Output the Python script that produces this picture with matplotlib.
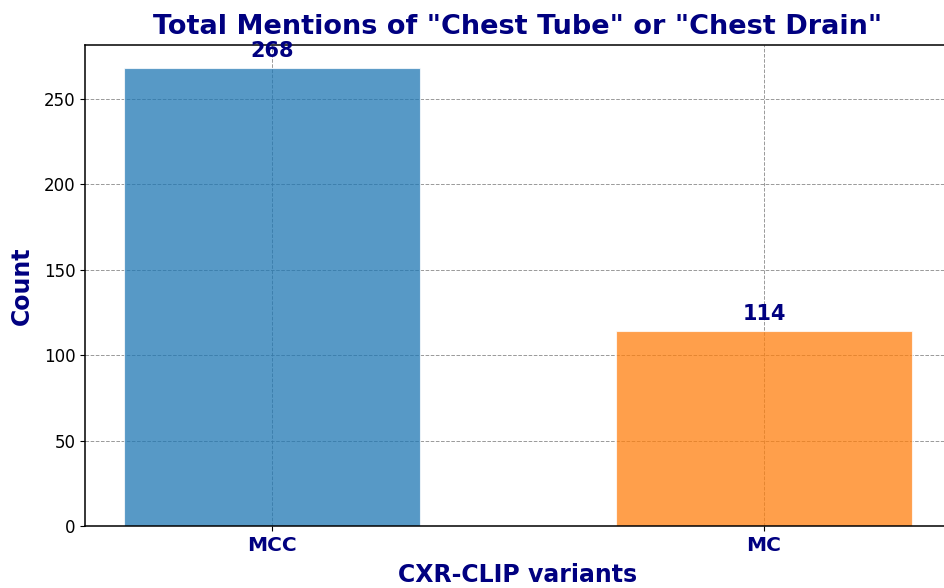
import matplotlib
matplotlib.use("Agg")
import matplotlib.pyplot as plt

variants = ["MCC", "MC"]
counts = [268, 114]
colors = ["tab:blue", "tab:orange"]

fig = plt.figure(figsize=(9.45, 5.88), dpi=100)
ax = fig.add_axes([85 / 945, 62 / 588, 866 / 945, 481 / 588])

bars = ax.bar(variants, counts, width=0.6, color=colors, alpha=0.75,
              edgecolor="white", linewidth=0.8)
ax.set_axisbelow(True)
ax.grid(True, linestyle="--", color="gray", linewidth=0.7, alpha=0.8)
for s in ax.spines.values():
    s.set_linewidth(1.1)

for b, c in zip(bars, counts):
    ax.text(b.get_x() + b.get_width() / 2, c + 4, str(c), ha="center", va="bottom",
            fontsize=15, fontweight="bold", color="navy")

ax.set_title('Total Mentions of "Chest Tube" or "Chest Drain"', fontsize=19.5,
             fontweight="bold", color="navy", pad=8)
ax.set_xlabel("CXR-CLIP variants", fontsize=17, fontweight="bold", color="navy",
              labelpad=6)
ax.set_ylabel("Count", fontsize=17, fontweight="bold", color="navy", labelpad=7)
plt.setp(ax.get_xticklabels(), fontsize=14.5, fontweight="bold", color="navy")
ax.tick_params(axis="y", labelsize=12)

fig.savefig("out.png", dpi=100)
